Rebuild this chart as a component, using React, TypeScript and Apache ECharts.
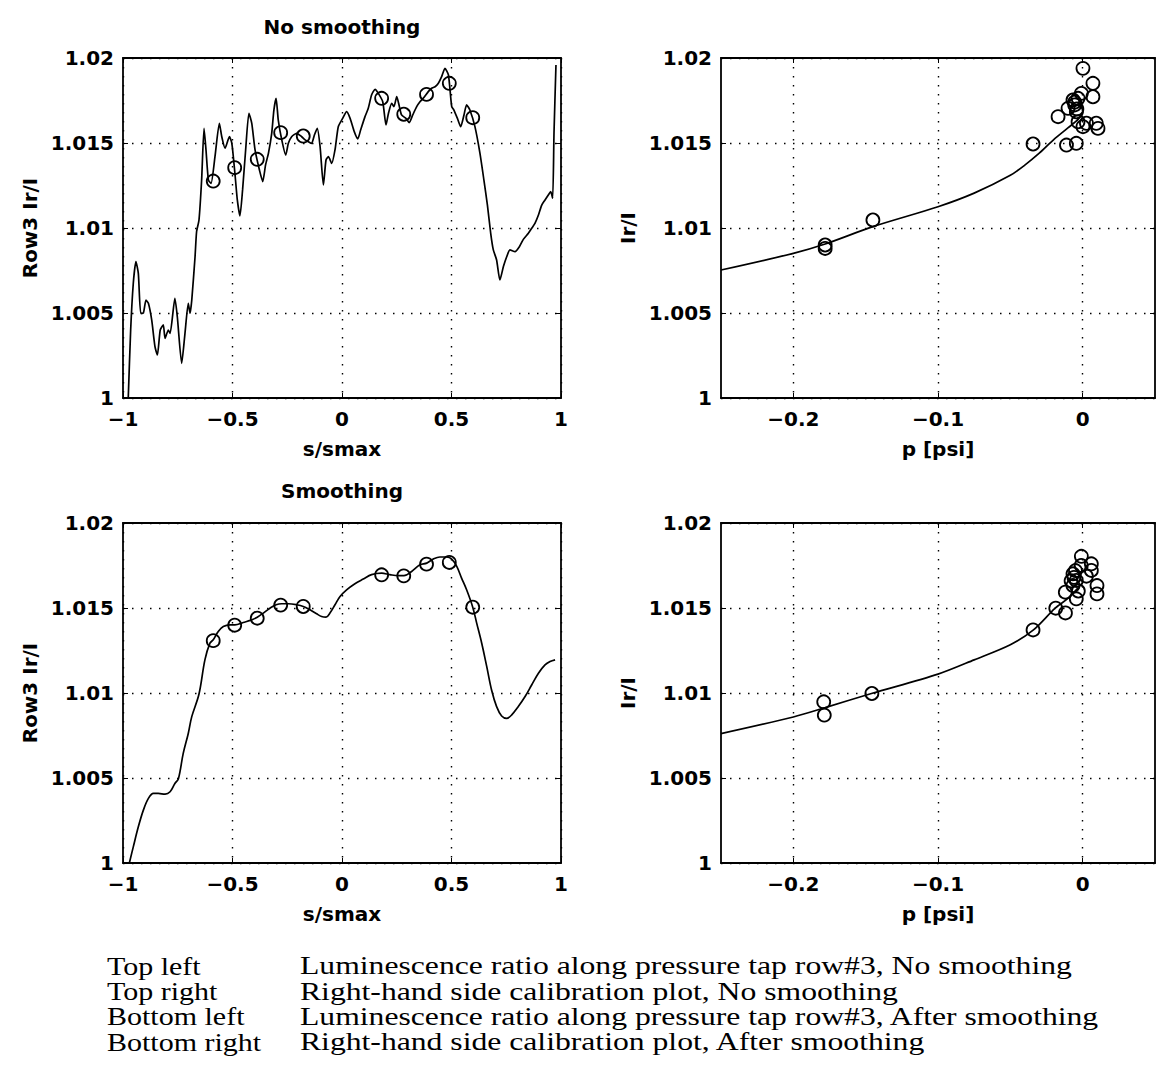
import React, { useEffect, useRef } from 'react';
import * as echarts from 'echarts';

// ---------- data ----------
const sTicks = [-1, -0.5, 0, 0.5, 1];
const pTicks = [-0.2, -0.1, 0];
const ratioTicks = [1, 1.005, 1.01, 1.015, 1.02];

const titles = ['No smoothing', 'Smoothing'];
const sName = 's/smax';
const pName = 'p [psi]';
const profileYName = 'Row3 Ir/I';
const calYName = 'Ir/I';

// luminescence ratio along row #3, no smoothing  [s/smax, Ir/I]
const rawProfile: [number, number][] = [
  [-0.976, 1.0], [-0.965, 1.004], [-0.953, 1.00675], [-0.941, 1.00802], [-0.93, 1.00733],
  [-0.919, 1.00498], [-0.907, 1.005], [-0.895, 1.00576], [-0.884, 1.00557], [-0.869, 1.00459],
  [-0.854, 1.00302], [-0.843, 1.00253], [-0.83, 1.004], [-0.816, 1.0043], [-0.808, 1.00351],
  [-0.793, 1.004], [-0.785, 1.0038], [-0.763, 1.00586], [-0.752, 1.00478], [-0.732, 1.00204],
  [-0.717, 1.0038], [-0.702, 1.00557], [-0.694, 1.00498], [-0.686, 1.00576], [-0.671, 1.00831],
  [-0.664, 1.00978], [-0.653, 1.01047], [-0.641, 1.01282], [-0.63, 1.01586], [-0.621, 1.01459],
  [-0.61, 1.01282], [-0.598, 1.01263], [-0.58, 1.0142], [-0.56, 1.01616], [-0.549, 1.01537],
  [-0.534, 1.01469], [-0.514, 1.01537], [-0.503, 1.01498], [-0.489, 1.01322], [-0.478, 1.01165],
  [-0.466, 1.01071], [-0.454, 1.01224], [-0.44, 1.01459], [-0.425, 1.01675], [-0.412, 1.01616],
  [-0.397, 1.01459], [-0.377, 1.01341], [-0.362, 1.01273], [-0.349, 1.01371], [-0.336, 1.01439],
  [-0.321, 1.01557], [-0.311, 1.01694], [-0.301, 1.01763], [-0.291, 1.01635], [-0.275, 1.01518],
  [-0.257, 1.01429], [-0.245, 1.01498], [-0.23, 1.01537], [-0.207, 1.01557], [-0.184, 1.01537],
  [-0.17, 1.0152], [-0.154, 1.01508], [-0.139, 1.01498], [-0.126, 1.01547], [-0.113, 1.01586],
  [-0.1, 1.01478], [-0.085, 1.01253], [-0.073, 1.014], [-0.062, 1.0142], [-0.047, 1.0138],
  [-0.032, 1.01459], [-0.017, 1.01596], [0.003, 1.01645], [0.021, 1.01684], [0.037, 1.01645],
  [0.056, 1.01567], [0.072, 1.01524], [0.085, 1.01576], [0.105, 1.01655], [0.12, 1.01704],
  [0.135, 1.01782], [0.151, 1.01816], [0.166, 1.01792], [0.186, 1.01743], [0.201, 1.01606],
  [0.212, 1.01674], [0.227, 1.01733], [0.237, 1.01714], [0.25, 1.01773], [0.262, 1.01714],
  [0.272, 1.01665], [0.292, 1.01645], [0.307, 1.0162], [0.323, 1.01665], [0.341, 1.01714],
  [0.356, 1.01743], [0.371, 1.01763], [0.394, 1.01802], [0.409, 1.01822], [0.425, 1.01831],
  [0.44, 1.01851], [0.455, 1.0189], [0.47, 1.01939], [0.486, 1.019], [0.501, 1.01714],
  [0.511, 1.01694], [0.527, 1.01645], [0.542, 1.01596], [0.557, 1.01665], [0.569, 1.01724],
  [0.584, 1.01694], [0.607, 1.01596], [0.63, 1.01439], [0.648, 1.01282], [0.664, 1.01135],
  [0.679, 1.00969], [0.691, 1.00871], [0.706, 1.00812], [0.721, 1.00694], [0.737, 1.00773],
  [0.752, 1.00831], [0.767, 1.00871], [0.79, 1.00861], [0.81, 1.0089], [0.828, 1.00933],
  [0.851, 1.00969], [0.866, 1.00998], [0.881, 1.01027], [0.897, 1.01076], [0.912, 1.01135],
  [0.927, 1.01165], [0.942, 1.01194], [0.953, 1.01214], [0.962, 1.01175], [0.968, 1.01557],
  [0.977, 1.01959],
];

// luminescence ratio along row #3, after smoothing
const smoothProfile: [number, number][] = [
  [-0.971, 1.0], [-0.953, 1.00095], [-0.93, 1.00213], [-0.907, 1.00311], [-0.884, 1.0038],
  [-0.861, 1.00409], [-0.839, 1.00409], [-0.808, 1.00405], [-0.785, 1.00419], [-0.763, 1.00468],
  [-0.747, 1.00496], [-0.725, 1.00645], [-0.702, 1.00762], [-0.686, 1.00861], [-0.653, 1.00994],
  [-0.626, 1.01195], [-0.603, 1.01293], [-0.588, 1.01313], [-0.565, 1.01362], [-0.542, 1.01391],
  [-0.511, 1.01401], [-0.489, 1.01401], [-0.451, 1.01415], [-0.412, 1.0143], [-0.387, 1.01446],
  [-0.359, 1.0147], [-0.329, 1.01499], [-0.301, 1.01519], [-0.275, 1.01525], [-0.245, 1.01525],
  [-0.207, 1.01519], [-0.177, 1.01509], [-0.146, 1.01489], [-0.116, 1.01466], [-0.093, 1.0145],
  [-0.073, 1.01446], [-0.055, 1.0147], [-0.032, 1.01519], [-0.009, 1.01568], [0.021, 1.01607],
  [0.059, 1.01643], [0.097, 1.0167], [0.135, 1.01696], [0.181, 1.01705], [0.219, 1.01696],
  [0.257, 1.0169], [0.283, 1.0169], [0.318, 1.01715], [0.356, 1.01754], [0.387, 1.01764],
  [0.417, 1.01788], [0.447, 1.018], [0.478, 1.018], [0.501, 1.01788], [0.524, 1.01745],
  [0.546, 1.01676], [0.569, 1.01607], [0.597, 1.01505], [0.615, 1.01411], [0.638, 1.01293],
  [0.661, 1.01155], [0.683, 1.01018], [0.706, 1.0092], [0.729, 1.00865], [0.752, 1.00851],
  [0.775, 1.00871], [0.805, 1.0092], [0.836, 1.00979], [0.866, 1.01047], [0.897, 1.01116],
  [0.927, 1.01165], [0.95, 1.01185], [0.973, 1.01195],
];

// pressure tap locations and ratios there
const tapS = [-0.588, -0.49, -0.387, -0.28, -0.177, 0.181, 0.282, 0.386, 0.49, 0.597];
const tapRaw = [1.01276, 1.01355, 1.01404, 1.01561, 1.01541, 1.01763, 1.01669, 1.01786, 1.01851, 1.01649];
const tapSmooth = [1.01308, 1.01399, 1.0144, 1.01517, 1.01509, 1.01695, 1.01689, 1.01758, 1.01768, 1.01505];

// calibration points [p, Ir/I]
const calRaw: [number, number][] = [
  [-0.178, 1.009], [-0.178, 1.0088], [-0.145, 1.01047], [-0.0343, 1.01494], [-0.0112, 1.01488],
  [-0.0044, 1.01498], [0.0002, 1.01939], [0.0071, 1.01851], [0.0071, 1.01772], [-0.0009, 1.01792],
  [-0.0032, 1.01763], [-0.0067, 1.01753], [-0.0055, 1.01724], [-0.0101, 1.01704], [-0.0044, 1.01684],
  [-0.017, 1.01655], [-0.0032, 1.01625], [0.0026, 1.01616], [0.0094, 1.01616], [0.0106, 1.01586],
  [0.0002, 1.01596], [-0.0055, 1.0174], [-0.004, 1.017],
];
const calSmooth: [number, number][] = [
  [-0.179, 1.00948], [-0.1786, 1.0087], [-0.1457, 1.00997], [-0.0343, 1.01371], [-0.0186, 1.01499],
  [-0.0119, 1.01471], [-0.0009, 1.01804], [0.006, 1.0176], [0.006, 1.01721], [0.0099, 1.01632],
  [0.0099, 1.01583], [-0.0067, 1.01701], [-0.0044, 1.01662], [-0.0067, 1.01632], [-0.0044, 1.01554],
  [-0.012, 1.01593], [-0.001, 1.0175], [-0.008, 1.0166], [0.0026, 1.01687], [-0.005, 1.0172],
  [-0.003, 1.016], [-0.006, 1.0168],
];

// calibration fit curves
const fitRaw: [number, number][] = [
  [-0.25, 1.00753], [-0.2, 1.00851], [-0.178, 1.00906], [-0.145, 1.01008], [-0.1, 1.01125],
  [-0.075, 1.01205], [-0.05, 1.0131], [-0.04, 1.0137], [-0.03, 1.0144], [-0.02, 1.0152],
  [-0.01, 1.0159], [-0.003, 1.0164], [0.0, 1.0168],
];
const fitSmooth: [number, number][] = [
  [-0.25, 1.00761], [-0.2, 1.00859], [-0.178, 1.00914], [-0.146, 1.00997], [-0.1, 1.01111],
  [-0.075, 1.01195], [-0.05, 1.01284], [-0.034, 1.01371], [-0.019, 1.01499], [-0.01, 1.01558],
  [-0.003, 1.0162],
];

const captionKeys = ['Top left', 'Top right', 'Bottom left', 'Bottom right'];
const captionTexts = [
  'Luminescence ratio along pressure tap row#3, No smoothing',
  'Right-hand side calibration plot, No smoothing',
  'Luminescence ratio along pressure tap row#3, After smoothing',
  'Right-hand side calibration plot, After smoothing',
];

// ---------- styling ----------
const FONT = 'DejaVu Sans';
const SERIF = 'Liberation Serif';
const grids = [
  { left: 123, top: 58, width: 438, height: 340 },
  { left: 721, top: 58, width: 434, height: 340 },
  { left: 123, top: 523, width: 438, height: 340 },
  { left: 721, top: 523, width: 434, height: 340 },
];
const minus = (v: number) => String(+v.toFixed(3)).replace('-', '\u2212');
const axisText = { fontFamily: FONT, fontSize: 20, fontWeight: 'bold' as const, color: '#000' };
const frame = { show: true, lineStyle: { color: '#000', width: 1.8 } };
const dotted = { show: true, lineStyle: { color: '#000', width: 1.4, type: [1.5, 7.5] as any } };

function xAxisFor(gi: number, mirror: boolean) {
  const isS = gi % 2 === 0;
  const base: any = {
    type: 'value',
    gridIndex: gi,
    position: mirror ? 'top' : 'bottom',
    axisLine: { ...frame, onZero: false },
    axisTick: { show: true, inside: true, length: 5, lineStyle: { color: '#000', width: 1 } },
    splitLine: mirror ? { show: false } : dotted,
    axisLabel: mirror ? { show: false } : { ...axisText, margin: 11, formatter: minus },
    name: mirror ? '' : isS ? sName : pName,
    nameLocation: 'middle',
    nameGap: 41,
    nameTextStyle: { ...axisText },
  };
  if (isS) {
    base.min = sTicks[0];
    base.max = sTicks[sTicks.length - 1];
    base.interval = 0.5;
  } else {
    base.min = -0.25;
    base.max = 0.05;
    base.axisTick.customValues = pTicks;
    base.axisLabel = mirror ? { show: false } : { ...axisText, margin: 11, formatter: minus, customValues: pTicks };
  }
  return base;
}

function yAxisFor(gi: number, mirror: boolean) {
  const isS = gi % 2 === 0;
  return {
    type: 'value',
    gridIndex: gi,
    position: mirror ? 'right' : 'left',
    min: ratioTicks[0],
    max: ratioTicks[ratioTicks.length - 1],
    interval: 0.005,
    axisLine: { ...frame, onZero: false },
    axisTick: { show: true, inside: true, length: 5, lineStyle: { color: '#000', width: 1 } },
    splitLine: mirror ? { show: false } : dotted,
    axisLabel: mirror ? { show: false } : { ...axisText, margin: 9, formatter: (v: number) => String(+v.toFixed(3)) },
    name: mirror ? '' : isS ? profileYName : calYName,
    nameLocation: 'middle',
    nameGap: 83,
    nameRotate: 90,
    nameTextStyle: { ...axisText },
  } as any;
}

const lineSeries = (gi: number, data: [number, number][], smooth: number | boolean) => ({
  type: 'line',
  xAxisIndex: gi,
  yAxisIndex: gi,
  data,
  showSymbol: false,
  smooth,
  lineStyle: { color: '#000', width: 1.7 },
  silent: true,
  z: 3,
});

const circleSeries = (gi: number, data: [number, number][]) => ({
  type: 'scatter',
  xAxisIndex: gi,
  yAxisIndex: gi,
  data,
  symbol: 'circle',
  symbolSize: 13,
  itemStyle: { color: 'rgba(0,0,0,0)', borderColor: '#000', borderWidth: 1.8, opacity: 1 },
  silent: true,
  z: 4,
});

export default function App() {
  const ref = useRef<HTMLDivElement>(null);
  useEffect(() => {
    if (!ref.current) return;
    const chart = echarts.init(ref.current, undefined, { renderer: 'svg' });
    const xAxes = [0, 1, 2, 3].map((g) => xAxisFor(g, false)).concat([0, 1, 2, 3].map((g) => xAxisFor(g, true)));
    const yAxes = [0, 1, 2, 3].map((g) => yAxisFor(g, false)).concat([0, 1, 2, 3].map((g) => yAxisFor(g, true)));
    const tapRawPts = tapS.map((s, i) => [s, tapRaw[i]] as [number, number]);
    const tapSmoothPts = tapS.map((s, i) => [s, tapSmooth[i]] as [number, number]);

    const titleFont = `bold 20px "${FONT}"`;
    const graphics: any[] = [
      {
        type: 'text', x: grids[0].left + grids[0].width / 2, y: 27,
        style: { text: titles[0], font: titleFont, fill: '#000', textAlign: 'center', textVerticalAlign: 'middle' },
      },
      {
        type: 'text', x: grids[2].left + grids[2].width / 2, y: 491,
        style: { text: titles[1], font: titleFont, fill: '#000', textAlign: 'center', textVerticalAlign: 'middle' },
      },
    ];
    const capFont = `25px "${SERIF}"`;
    captionKeys.forEach((k, i) => {
      const y = 966 + i * 25.3;
      graphics.push({
        type: 'text', x: 107, y, scaleX: 1.2,
        style: { text: k, font: capFont, fill: '#000', textAlign: 'left', textVerticalAlign: 'middle' },
      });
      graphics.push({
        type: 'text', x: 300, y, scaleX: 1.267,
        style: { text: captionTexts[i], font: capFont, fill: '#000', textAlign: 'left', textVerticalAlign: 'middle' },
      });
    });

    chart.setOption({
      animation: false,
      backgroundColor: '#fff',
      grid: grids.map((g) => ({ ...g, containLabel: false })),
      xAxis: xAxes,
      yAxis: yAxes,
      series: [
        lineSeries(0, rawProfile, 0.2),
        circleSeries(0, tapRawPts),
        lineSeries(1, fitRaw, 0.3),
        circleSeries(1, calRaw),
        lineSeries(2, smoothProfile, 0.35),
        circleSeries(2, tapSmoothPts),
        lineSeries(3, fitSmooth, 0.3),
        circleSeries(3, calSmooth),
      ],
      graphic: graphics,
    });
    return () => chart.dispose();
  }, []);
  return (
    <div
      ref={ref}
      style={{ position: 'fixed', left: 0, top: 0, width: 1156, height: 1078, background: '#fff' }}
    />
  );
}
